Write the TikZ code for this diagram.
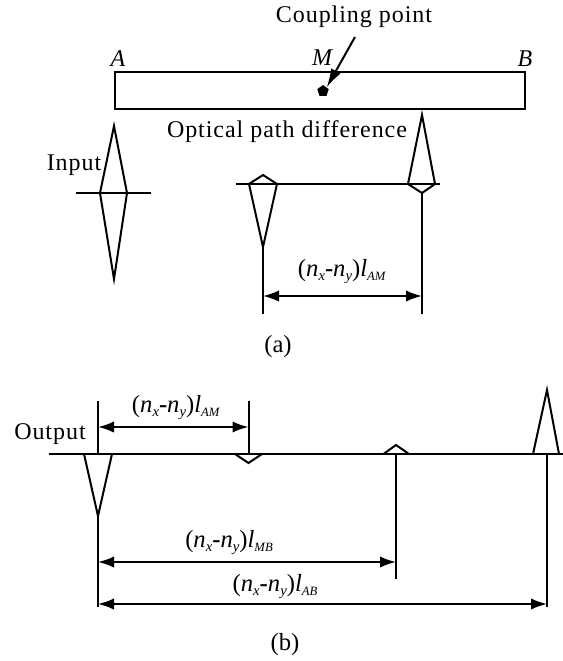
\documentclass[tikz,border=0pt]{standalone}
\usepackage{fontspec}
\setmainfont{Liberation Serif}
\newfontfamily\spaced[LetterSpace=4]{Liberation Serif}
\usetikzlibrary{arrows.meta,shapes.geometric}
\tikzset{
  ln/.style={line width=1.5pt,line join=miter,miter limit=10},
  dim/.style={ln,{Latex[length=12pt,width=8.5pt]}-{Latex[length=12pt,width=8.5pt]}},
  lab/.style={inner sep=0pt,font=\fontsize{18.5}{21}\selectfont},
  slab/.style={inner sep=0pt,font=\fontsize{18}{21}\selectfont\spaced},
  mlab/.style={inner sep=0pt,font=\fontsize{18}{21}\selectfont\itshape},
}
\newcommand{\dimtext}[1]{(\textit{n}\raisebox{-3pt}{\fontsize{11}{11}\selectfont\textit{x}}\textbf{-}\textit{n}\raisebox{-3pt}{\fontsize{11}{11}\selectfont\textit{y}})\textit{l}\raisebox{-3pt}{\fontsize{9.5}{9.5}\selectfont\textit{#1}}}
\begin{document}
\begin{tikzpicture}[x=0.75pt,y=-0.75pt]
\useasboundingbox (0,0) rectangle (563,661);
% fibre
\node[draw,ln,minimum width=307.5pt,minimum height=27.75pt,inner sep=0pt] (fibre) at (319.5,90.5) {};
\node[mlab] (lA) at (118,59) {A};
\node[mlab] (lM) at (322,58) {M};
\node[mlab] (lB) at (525,59) {B};
\node[slab] (coupling) at (354,17) {Coupling point};
\coordinate (cs) at (355,37);
\node[regular polygon,regular polygon sides=5,fill=black,inner sep=0pt,minimum size=9pt] (dot) at (323,91) {};
\draw[ln,-{Latex[length=14pt,width=8pt]}] (cs) -- (dot.north east);
% input
\node[slab] (input) at (74,165) {Input};
\coordinate (i1) at (76,193); \coordinate (i2) at (151,193);
\draw[ln] (i1) -- (i2);
\draw[ln] (114,126) -- (127,193) -- (114,279) -- (100,193) -- cycle;
% (a)
\node[slab] (opd) at (287,132) {Optical path difference};
\coordinate (a1) at (236,184); \coordinate (a2) at (440,184);
\draw[ln] (a1) -- (a2);
\draw[ln] (249,184) -- (263,175) -- (277,184) -- (263,247) -- cycle;
\draw[ln] (408,184) -- (422,115) -- (435,184) -- (422,193) -- cycle;
\coordinate (ap) at (263,247); \coordinate (ae) at (263,314);
\coordinate (bp) at (422,193); \coordinate (be) at (422,314);
\draw[ln] (ap) -- (ae);
\draw[ln] (bp) -- (be);
\coordinate (d1) at (263,296); \coordinate (d2) at (422,296);
\draw[dim] (d1) -- (d2);
\node[lab] (t1) at (342,272) {\dimtext{AM}};
\node[lab] (capa) at (278,347) {(a)};
% (b)
\node[slab] (output) at (50,434) {Output};
\coordinate (o1) at (48.5,454); \coordinate (o2) at (563,454);
\draw[ln] (o1) -- (o2);
\draw[ln] (84,454) -- (98,516) -- (112,454);
\draw[ln] (235,454) -- (248.5,463) -- (262,454);
\draw[ln] (383.5,454) -- (396,445) -- (409,454);
\draw[ln] (533,454) -- (547,390) -- (559,454);
\coordinate (v1a) at (98,401); \coordinate (v1b) at (98,454);
\coordinate (v1c) at (98,516); \coordinate (v1d) at (98,607);
\coordinate (v2a) at (248.5,401); \coordinate (v2b) at (248.5,454);
\coordinate (v3a) at (396,454); \coordinate (v3b) at (396,579);
\coordinate (v4a) at (547,454); \coordinate (v4b) at (547,607);
\draw[ln] (v1a) -- (v1b);
\draw[ln] (v1c) -- (v1d);
\draw[ln] (v2a) -- (v2b);
\draw[ln] (v3a) -- (v3b);
\draw[ln] (v4a) -- (v4b);
\coordinate (e1) at (98,427); \coordinate (e2) at (248.5,427);
\coordinate (f1) at (98,562); \coordinate (f2) at (396,562);
\coordinate (g1) at (98,604); \coordinate (g2) at (547,604);
\draw[dim] (e1) -- (e2);
\draw[dim] (f1) -- (f2);
\draw[dim] (g1) -- (g2);
\node[lab] (t2) at (176,408) {\dimtext{AM}};
\node[lab] (t3) at (229,543) {\dimtext{MB}};
\node[lab] (t4) at (275,587) {\dimtext{AB}};
\node[lab] (capb) at (285,645) {(b)};
\end{tikzpicture}
\end{document}
